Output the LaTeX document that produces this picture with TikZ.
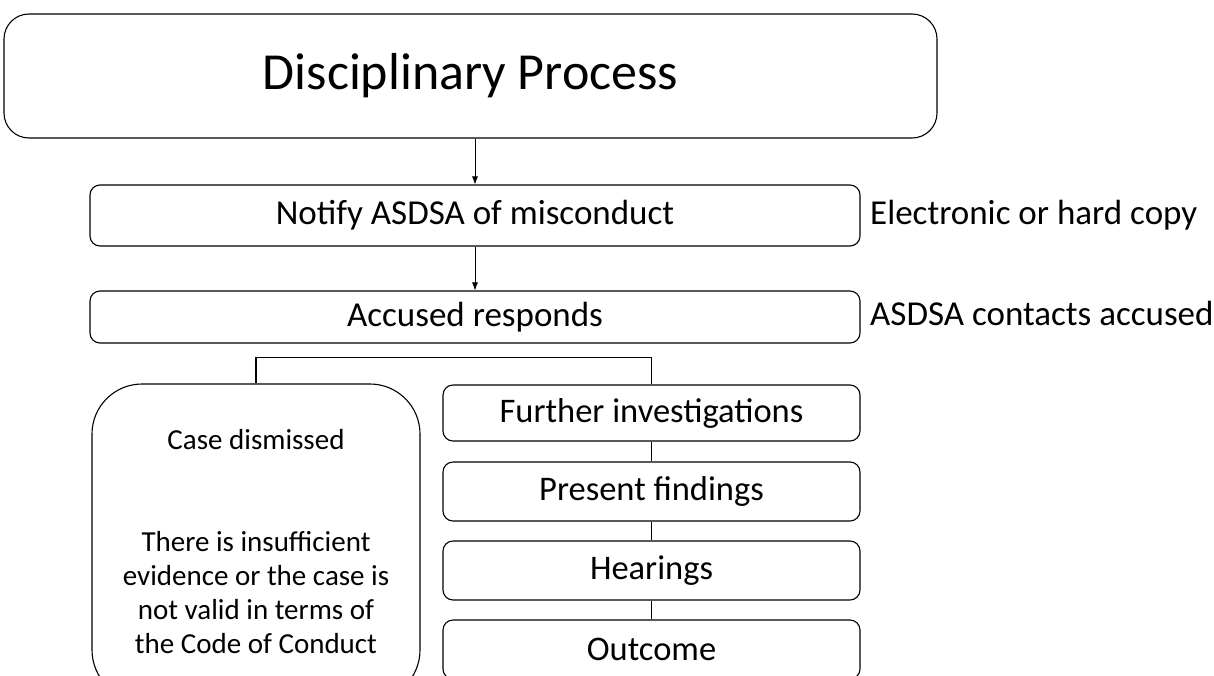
\documentclass[tikz,border=0pt]{standalone}
\usepackage{fontspec}
\setmainfont{Carlito}
\usepackage{tikz}
\usetikzlibrary{arrows,arrows.meta,shapes,positioning}
\tikzset{
boxnode/.style = {align=center, inner sep=0pt, text centered, draw=black, line width=1.1pt},
box_t/.style = {boxnode, rounded corners=25pt, minimum width=933pt, minimum height=124pt, font=\fontsize{52}{60}\selectfont},% titre
box_s/.style = {boxnode, rounded corners=10pt, minimum width=770pt, font=\fontsize{35}{40}\selectfont},% etape large
box_r/.style = {boxnode, rounded corners=10pt, minimum width=417pt, minimum height=59pt, font=\fontsize{34.5}{40}\selectfont},% etape droite
box_c/.style = {boxnode, rounded corners=50pt, minimum width=328pt, minimum height=316pt, font=\fontsize{29}{34}\selectfont},% affaire classee
note_t/.style = {anchor=west, inner sep=0pt, font=\fontsize{35}{40}\selectfont},% remarque
flow_a/.style = {-{Latex[length=8pt,width=6pt]}, line width=0.8pt}% fleche
}
\begin{document}
\begin{tikzpicture}[x=1pt, y=-1pt]
  \useasboundingbox (0,0) rectangle (1214,675);
  \node [box_t] (title) at (470.5,76) {Disciplinary Process};
  \node [box_s, minimum height=61pt] (notify) at (475,215.5) {Notify ASDSA of misconduct};
  \node [box_s, minimum height=52pt] (accused) at (475,317) {Accused responds};
  \node [box_c] (case) at (256,542) {Case dismissed\\[68pt]There is insufficient\\evidence or the case is\\not valid in terms of\\the Code of Conduct};
  \node [box_r, minimum height=56pt] (further) at (651.5,413) {Further investigations};
  \node [box_r] (present) at (651.5,491.5) {Present findings};
  \node [box_r] (hearings) at (651.5,570.5) {Hearings};
  \node [box_r] (outcome) at (651.5,649.5) {Outcome};
  \node [note_t] (electronic) at (870,215) {Electronic or hard copy};
  \node [note_t] (contacts) at (870,313) {ASDSA contacts accused};
  % fleches
  \draw [flow_a] (notify.north |- title.south) -- (notify.north);
  \draw [flow_a] (notify) -- (accused);
  \draw [line width=1.1pt] (case.north) -- ++(0,-26) -| (further.north);
  \draw [line width=1.1pt] (further) -- (present);
  \draw [line width=1.1pt] (present) -- (hearings);
  \draw [line width=1.1pt] (hearings) -- (outcome);
\end{tikzpicture}
\end{document}
